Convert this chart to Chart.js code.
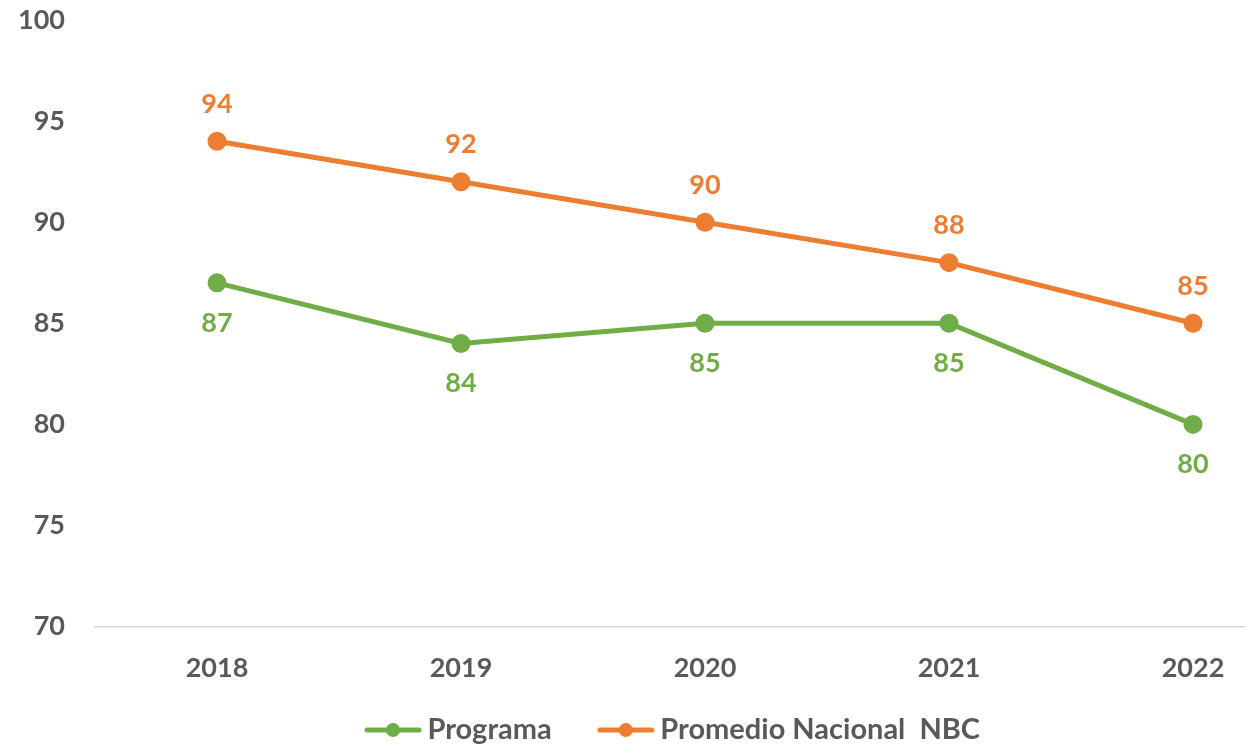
<!DOCTYPE html>
<html>
<head>
<meta charset="utf-8">
<script src="https://cdn.jsdelivr.net/npm/chart.js@4"></script>
<style>
  html, body { margin: 0; padding: 0; background: #ffffff; overflow: hidden; }
  #wrap { width: 1315px; height: 748px; }
</style>
</head>
<body>
<div id="wrap"><canvas id="lineChart"></canvas></div>
<script>
const years = ['2018', '2019', '2020', '2021', '2022'];
const programa = [87, 84, 85, 85, 80];
const promedioNBC = [94, 92, 90, 88, 85];
const yTicks = [70, 75, 80, 85, 90, 95, 100];

const green = '#70AD47';
const orange = '#ED7D31';
const grey = '#595959';
const fontFamily = 'Lato, "Open Sans", sans-serif';

// legend marker: short line with a dot in the middle
function legendMarker(color) {
    const c = document.createElement('canvas');
    c.width = 60; c.height = 16;
    const g = c.getContext('2d');
    g.strokeStyle = color;
    g.lineWidth = 5;
    g.lineCap = 'round';
    g.beginPath(); g.moveTo(4, 8); g.lineTo(56, 8); g.stroke();
    g.fillStyle = color;
    g.beginPath(); g.arc(30, 8, 7, 0, Math.PI * 2); g.fill();
    return c;
}

// value labels, orange above the point, green below
const valueLabels = {
    id: 'valueLabels',
    afterDatasetsDraw(chart) {
        const ctx = chart.ctx;
        ctx.save();
        ctx.font = 'bold 27px ' + fontFamily;
        ctx.textAlign = 'center';
        ctx.textBaseline = 'middle';
        chart.data.datasets.forEach((ds, i) => {
            const meta = chart.getDatasetMeta(i);
            ctx.fillStyle = ds.borderColor;
            meta.data.forEach((pt, j) => {
                const off = ds.labelAbove ? -37 : 40;
                ctx.fillText(ds.data[j], pt.x, pt.y + off);
            });
        });
        ctx.restore();
    }
};

// move the legend so its text sits where the original has it
const legendShift = {
    id: 'legendShift',
    afterLayout(chart) {
        const lg = chart.legend;
        const pad = lg.options.labels.padding;
        const dy = (lg.top + pad + 14.5) - 730;
        lg.top -= dy; lg.bottom -= dy;
        lg.left += 19; lg.right += 19;
    }
};

const ctx = document.getElementById('lineChart').getContext('2d');
const lineChart = new Chart(ctx, {
    type: 'line',
    data: {
        labels: years,
        datasets: [{
            label: 'Programa',
            data: programa,
            borderColor: green,
            backgroundColor: green,
            borderWidth: 5,
            pointRadius: 7,
            pointHoverRadius: 7,
            tension: 0,
            labelAbove: false
        }, {
            label: 'Promedio Nacional  NBC',
            data: promedioNBC,
            borderColor: orange,
            backgroundColor: orange,
            borderWidth: 5,
            pointRadius: 7,
            pointHoverRadius: 7,
            tension: 0,
            labelAbove: true
        }]
    },
    options: {
        responsive: true,
        maintainAspectRatio: false,
        animation: false,
        layout: { autoPadding: false, padding: { left: 0, right: 0, top: 20, bottom: -54 } },
        scales: {
            x: {
                offset: true,
                grid: { display: false, drawTicks: false },
                border: { display: true, color: '#d9d9d9', width: 1.5 },
                ticks: {
                    color: grey,
                    padding: 25,
                    font: { family: fontFamily, size: 27, weight: 'bold' }
                }
            },
            y: {
                min: 70,
                max: 100,
                afterFit(scale) {
                    scale.width = 95;
                    scale.paddingTop = 0;
                    scale.paddingBottom = 0;
                },
                afterBuildTicks(scale) { scale.ticks = yTicks.map(v => ({ value: v })); },
                grid: { display: false, drawTicks: false },
                border: { display: false },
                ticks: {
                    color: grey,
                    padding: 30,
                    font: { family: fontFamily, size: 27, weight: 'bold' }
                }
            }
        },
        plugins: {
            tooltip: { enabled: false },
            legend: {
                position: 'bottom',
                labels: {
                    color: grey,
                    font: { family: fontFamily, size: 29, weight: 'bold' },
                    usePointStyle: true,
                    pointStyleWidth: 40,
                    padding: 54,
                    generateLabels(chart) {
                        return chart.data.datasets.map((ds, i) => ({
                            text: ds.label,
                            fillStyle: ds.borderColor,
                            strokeStyle: ds.borderColor,
                            fontColor: grey,
                            lineWidth: 0,
                            pointStyle: legendMarker(ds.borderColor),
                            hidden: false,
                            datasetIndex: i
                        }));
                    }
                }
            }
        }
    },
    plugins: [valueLabels, legendShift]
});
</script>
</body>
</html>
